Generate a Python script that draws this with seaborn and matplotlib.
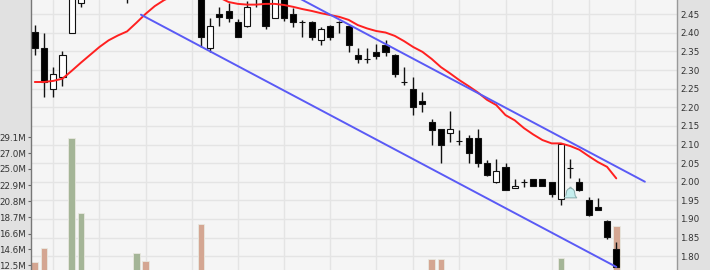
import numpy as np
import pandas as pd
import matplotlib
matplotlib.use("Agg")
import matplotlib.pyplot as plt
import seaborn as sns

# ---------------- data ----------------
opens = [2.402, 2.359, 2.248, 2.281, 2.399, 2.480, 2.550, 2.520, 2.550, 2.530,
         2.520, 2.500, 2.530, 2.540, 2.560, 2.550, 2.570, 2.550, 2.530, 2.3586,
         2.4508, 2.4597, 2.4301, 2.4186, 2.510, 2.500, 2.4392, 2.500, 2.4508, 2.4301,
         2.4301, 2.3809, 2.4186, 2.4301, 2.4186, 2.3406, 2.3298, 2.3495, 2.3675, 2.3406,
         2.2672, 2.2484, 2.2178, 2.1613, 2.1409, 2.1317, 2.1094, 2.1183, 2.1183, 2.0495,
         2.0000, 2.0403, 1.9823, 1.9984, 2.0081, 2.0081, 1.9992, 1.9527, 2.0377, 1.9992,
         1.9508, 1.9312, 1.8954, 1.8199]
highs = [2.421, 2.399, 2.309, 2.352, 2.510, 2.540, 2.570, 2.560, 2.570, 2.560,
         2.530, 2.540, 2.540, 2.570, 2.580, 2.580, 2.590, 2.570, 2.540, 2.4392,
         2.4688, 2.4796, 2.4370, 2.4850, 2.520, 2.510, 2.510, 2.510, 2.4670, 2.4347,
         2.4328, 2.4167, 2.4212, 2.4328, 2.4212, 2.3586, 2.3586, 2.3702, 2.3809, 2.3433,
         2.3092, 2.2807, 2.2419, 2.1678, 2.1409, 2.1909, 2.1390, 2.1256, 2.1409, 2.0584,
         2.0602, 2.0511, 2.0080, 2.0080, 2.0081, 2.0081, 1.9992, 2.1049, 2.0602, 2.0092,
         1.9581, 1.9554, 1.8978, 1.8379]
lows = [2.341, 2.229, 2.229, 2.257, 2.399, 2.469, 2.500, 2.500, 2.510, 2.500,
        2.480, 2.495, 2.495, 2.520, 2.530, 2.540, 2.540, 2.520, 2.3629, 2.3495,
        2.4186, 2.4301, 2.3882, 2.4167, 2.4704, 2.4097, 2.4392, 2.4320, 2.4167, 2.3898,
        2.3809, 2.3675, 2.3809, 2.3989, 2.3495, 2.3183, 2.3183, 2.3298, 2.3387, 2.2807,
        2.2600, 2.1793, 2.1882, 2.0987, 2.0495, 2.1075, 2.0987, 2.0511, 2.0403, 2.0153,
        1.9973, 1.9777, 1.9823, 1.9866, 1.9885, 1.9885, 1.9581, 1.9374, 2.0092, 1.9758,
        1.9078, 1.9240, 1.8468, 1.7700]
closes = [2.359, 2.269, 2.290, 2.341, 2.500, 2.530, 2.520, 2.550, 2.530, 2.540,
          2.500, 2.530, 2.510, 2.560, 2.550, 2.570, 2.550, 2.540, 2.3898, 2.4186,
          2.4419, 2.4392, 2.3898, 2.4688, 2.495, 2.4186, 2.500, 2.4392, 2.4301, 2.4301,
          2.3898, 2.4097, 2.3898, 2.4301, 2.3675, 2.3298, 2.3298, 2.3387, 2.3495, 2.2895,
          2.2672, 2.2000, 2.2089, 2.1390, 2.0987, 2.1409, 2.1094, 2.0780, 2.0495, 2.0180,
          2.0288, 1.9777, 1.9893, 1.9984, 1.9885, 1.9885, 1.9670, 2.1014, 2.0377, 1.9777,
          1.9105, 1.9240, 1.8523, 1.7716]
volumes_m = [12.97, 14.70, 10.4, 9.8, 28.97, 19.32, 11.2, 9.5, 8.7, 10.1,
             9.3, 14.13, 13.06, 10.6, 8.9, 9.7, 11.0, 10.3, 17.82, 11.4,
             8.2, 7.6, 9.1, 10.8, 7.9, 9.4, 8.6, 10.2, 7.3, 6.8,
             8.4, 7.7, 9.0, 6.5, 10.9, 7.2, 6.9, 7.5, 8.1, 11.3,
             8.8, 11.6, 9.2, 13.28, 13.28, 10.5, 8.3, 9.6, 11.1, 8.5,
             7.8, 10.0, 7.1, 6.6, 7.4, 8.0, 9.9, 13.41, 10.7, 8.9,
             10.4, 7.0, 11.5, 17.60]
moving_avg = [2.268, 2.268, 2.271, 2.277, 2.298, 2.320, 2.341, 2.362, 2.380, 2.393,
              2.404, 2.427, 2.451, 2.472, 2.488, 2.500, 2.510, 2.510, 2.505, 2.500,
              2.495, 2.483, 2.478, 2.476, 2.476, 2.478, 2.478, 2.475, 2.470, 2.464,
              2.459, 2.453, 2.448, 2.443, 2.435, 2.421, 2.412, 2.405, 2.401, 2.392,
              2.378, 2.362, 2.349, 2.330, 2.308, 2.291, 2.273, 2.257, 2.240, 2.220,
              2.206, 2.179, 2.165, 2.144, 2.127, 2.112, 2.103, 2.103, 2.096, 2.086,
              2.069, 2.053, 2.040, 2.009]
channel_lower_x = [11.5, 63.0]
channel_lower_y = [2.449, 1.771]
channel_upper_x = [11.5, 66.1]
channel_upper_y = [2.719, 2.000]
alert_idx = [58]
alert_price = [1.971]
price_ticks = [1.80, 1.85, 1.90, 1.95, 2.00, 2.05, 2.10, 2.15, 2.20, 2.25,
               2.30, 2.35, 2.40, 2.45]
volume_ticks_m = [12.5, 14.6, 16.6, 18.7, 20.8, 22.9, 25.0, 27.0, 29.1]
week_start_idx = [2, 7, 12, 17, 22, 27, 32, 37, 41, 46, 51, 56, 60, 65]

# ---------------- frame ----------------
n = len(opens)
idx = np.arange(n)
df = pd.DataFrame({"idx": idx, "open": opens, "high": highs, "low": lows,
                   "close": closes, "vol": volumes_m, "ma": moving_avg})
df["dir"] = np.where(df["close"] >= df["open"], "up", "down")

sns.set_theme(style="white")
plt.rcParams["font.family"] = ["DejaVu Sans"]

W, H = 710, 270
fig = plt.figure(figsize=(W / 100, H / 100), dpi=100, facecolor="#e1e1e1")
axv = fig.add_axes([31 / W, 0, 646 / W, 1])
axp = axv.twinx()
axv.set_zorder(0)
axp.set_zorder(1)
axp.patch.set_visible(False)
axv.set_facecolor("#f5f5f5")

xlim = (-0.41, 69.58)
plim = (1.7627, 2.4884)
vlim = (11.89, 46.9)

# grid (drawn on lowest layer)
grid_c = "#e4e4e4"
for g in week_start_idx:
    axv.axvline(g, color=grid_c, lw=1, zorder=0.2)
for p in price_ticks:
    v = vlim[0] + (p - plim[0]) / (plim[1] - plim[0]) * (vlim[1] - vlim[0])
    axv.axhline(v, color=grid_c, lw=1, zorder=0.2)

# volume bars
sns.barplot(data=df, x="idx", y="vol", hue="dir", hue_order=["up", "down"],
            palette={"up": "#a4b597", "down": "#d4a692"}, native_scale=True,
            width=0.72, dodge=False, errorbar=None, legend=False, saturation=1,
            edgecolor="#e8e8e0", linewidth=0.6, ax=axv, zorder=1)

# candles
axp.vlines(df["idx"], df["low"], df["high"], color="#111111", lw=1.0, zorder=2)
body_bottom = np.minimum(df["open"], df["close"])
body_h = np.maximum(np.abs(df["close"] - df["open"]), 0.0004)
body_col = np.where(df["dir"] == "up", "white", "black")
axp.bar(df["idx"], body_h, bottom=body_bottom, width=0.66, color=body_col,
        edgecolor="#111111", linewidth=0.8, zorder=3)

# moving average and channel
sns.lineplot(x=df["idx"], y=df["ma"], ax=axp, color="#ff2020", lw=1.4, zorder=4)
sns.lineplot(x=channel_lower_x, y=channel_lower_y, ax=axp, color="#5a5af5", lw=1.4, zorder=4)
sns.lineplot(x=channel_upper_x, y=channel_upper_y, ax=axp, color="#5a5af5", lw=1.4, zorder=4)

# alert bell
bell = [(-1.0, -0.7), (1.0, -0.7), (0.75, -0.35), (0.6, 0.45), (0.35, 0.75),
        (0.1, 0.8), (0.1, 1.0), (-0.1, 1.0), (-0.1, 0.8), (-0.35, 0.75),
        (-0.6, 0.45), (-0.75, -0.35)]
axp.plot(alert_idx, alert_price, linestyle="none", marker=bell, markersize=9,
         markerfacecolor="#c4eeee", markeredgecolor="#88aaaa", markeredgewidth=0.7,
         zorder=5)

# axes limits / ticks
axv.set_xlim(*xlim)
axp.set_xlim(*xlim)
axv.set_ylim(*vlim)
axp.set_ylim(*plim)
axv.set_xticks([])
axp.set_xticks([])
axv.set_xlabel("")
axv.set_ylabel("")
axp.set_xlabel("")
axp.set_ylabel("")

axv.set_yticks(volume_ticks_m)
axv.set_yticklabels([f"{v:.1f}M" for v in volume_ticks_m])
axv.tick_params(axis="y", left=True, right=False, labelleft=True, labelright=False,
                length=2.5, width=0.8, color="#666666", pad=1,
                labelsize=6.3, labelcolor="#333333")
axp.set_yticks(price_ticks)
axp.set_yticklabels([f"{p:.2f}" for p in price_ticks])
axp.tick_params(axis="y", left=False, right=True, labelleft=False, labelright=True,
                length=0, pad=2.5, labelsize=6.3, labelcolor="#333333")

for s in ["top", "bottom"]:
    axv.spines[s].set_visible(False)
axv.spines["left"].set_color("#777777")
axv.spines["left"].set_linewidth(1.0)
axv.spines["right"].set_color("#999999")
axv.spines["right"].set_linewidth(1.0)
for s in axp.spines.values():
    s.set_visible(False)

fig.savefig("out.png", dpi=100, facecolor=fig.get_facecolor())
